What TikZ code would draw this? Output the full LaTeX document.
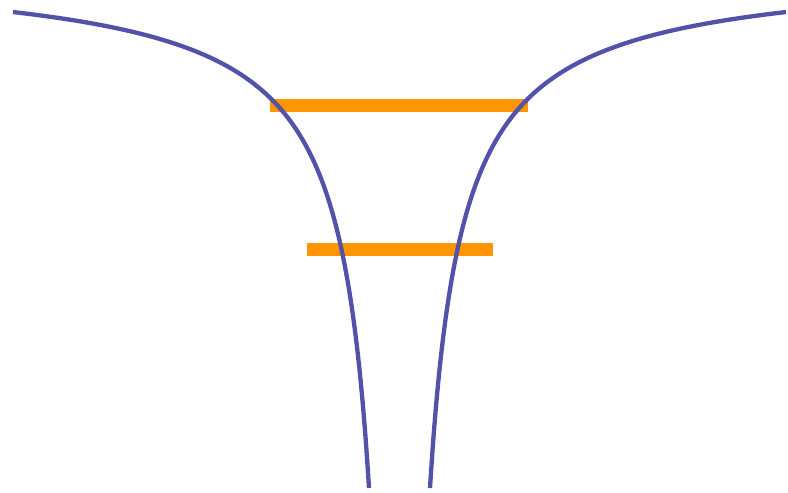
\documentclass[tikz,border=0pt]{standalone}
\usepackage{tikz}
\definecolor{funnelblue}{RGB}{82,82,170}
\definecolor{barorange}{RGB}{255,149,0}
\tikzset{
  funnel/.style={draw=funnelblue,line width=4.3pt,line cap=butt,line join=round},
  bar/.style={fill=barorange,draw=none}
}
\begin{document}
\begin{tikzpicture}[x=1pt,y=-1pt]
\useasboundingbox[fill=white] (0,0) rectangle (788,493);
% orange bars
\fill[bar] (270,98.5) rectangle (527.5,111.5);
\fill[bar] (306.5,243.3) rectangle (493.3,256.3);
% left curve
\draw[funnel] plot[domain=12:488,samples=240,variable=\t]
  ({399.5-386.5*exp(1.0535*(3.85015-ln(\t+35)))},{\t});
% right curve (mirror)
\draw[funnel] plot[domain=12:488,samples=240,variable=\t]
  ({399.5+386.5*exp(1.0535*(3.85015-ln(\t+35)))},{\t});
\end{tikzpicture}
\end{document}
